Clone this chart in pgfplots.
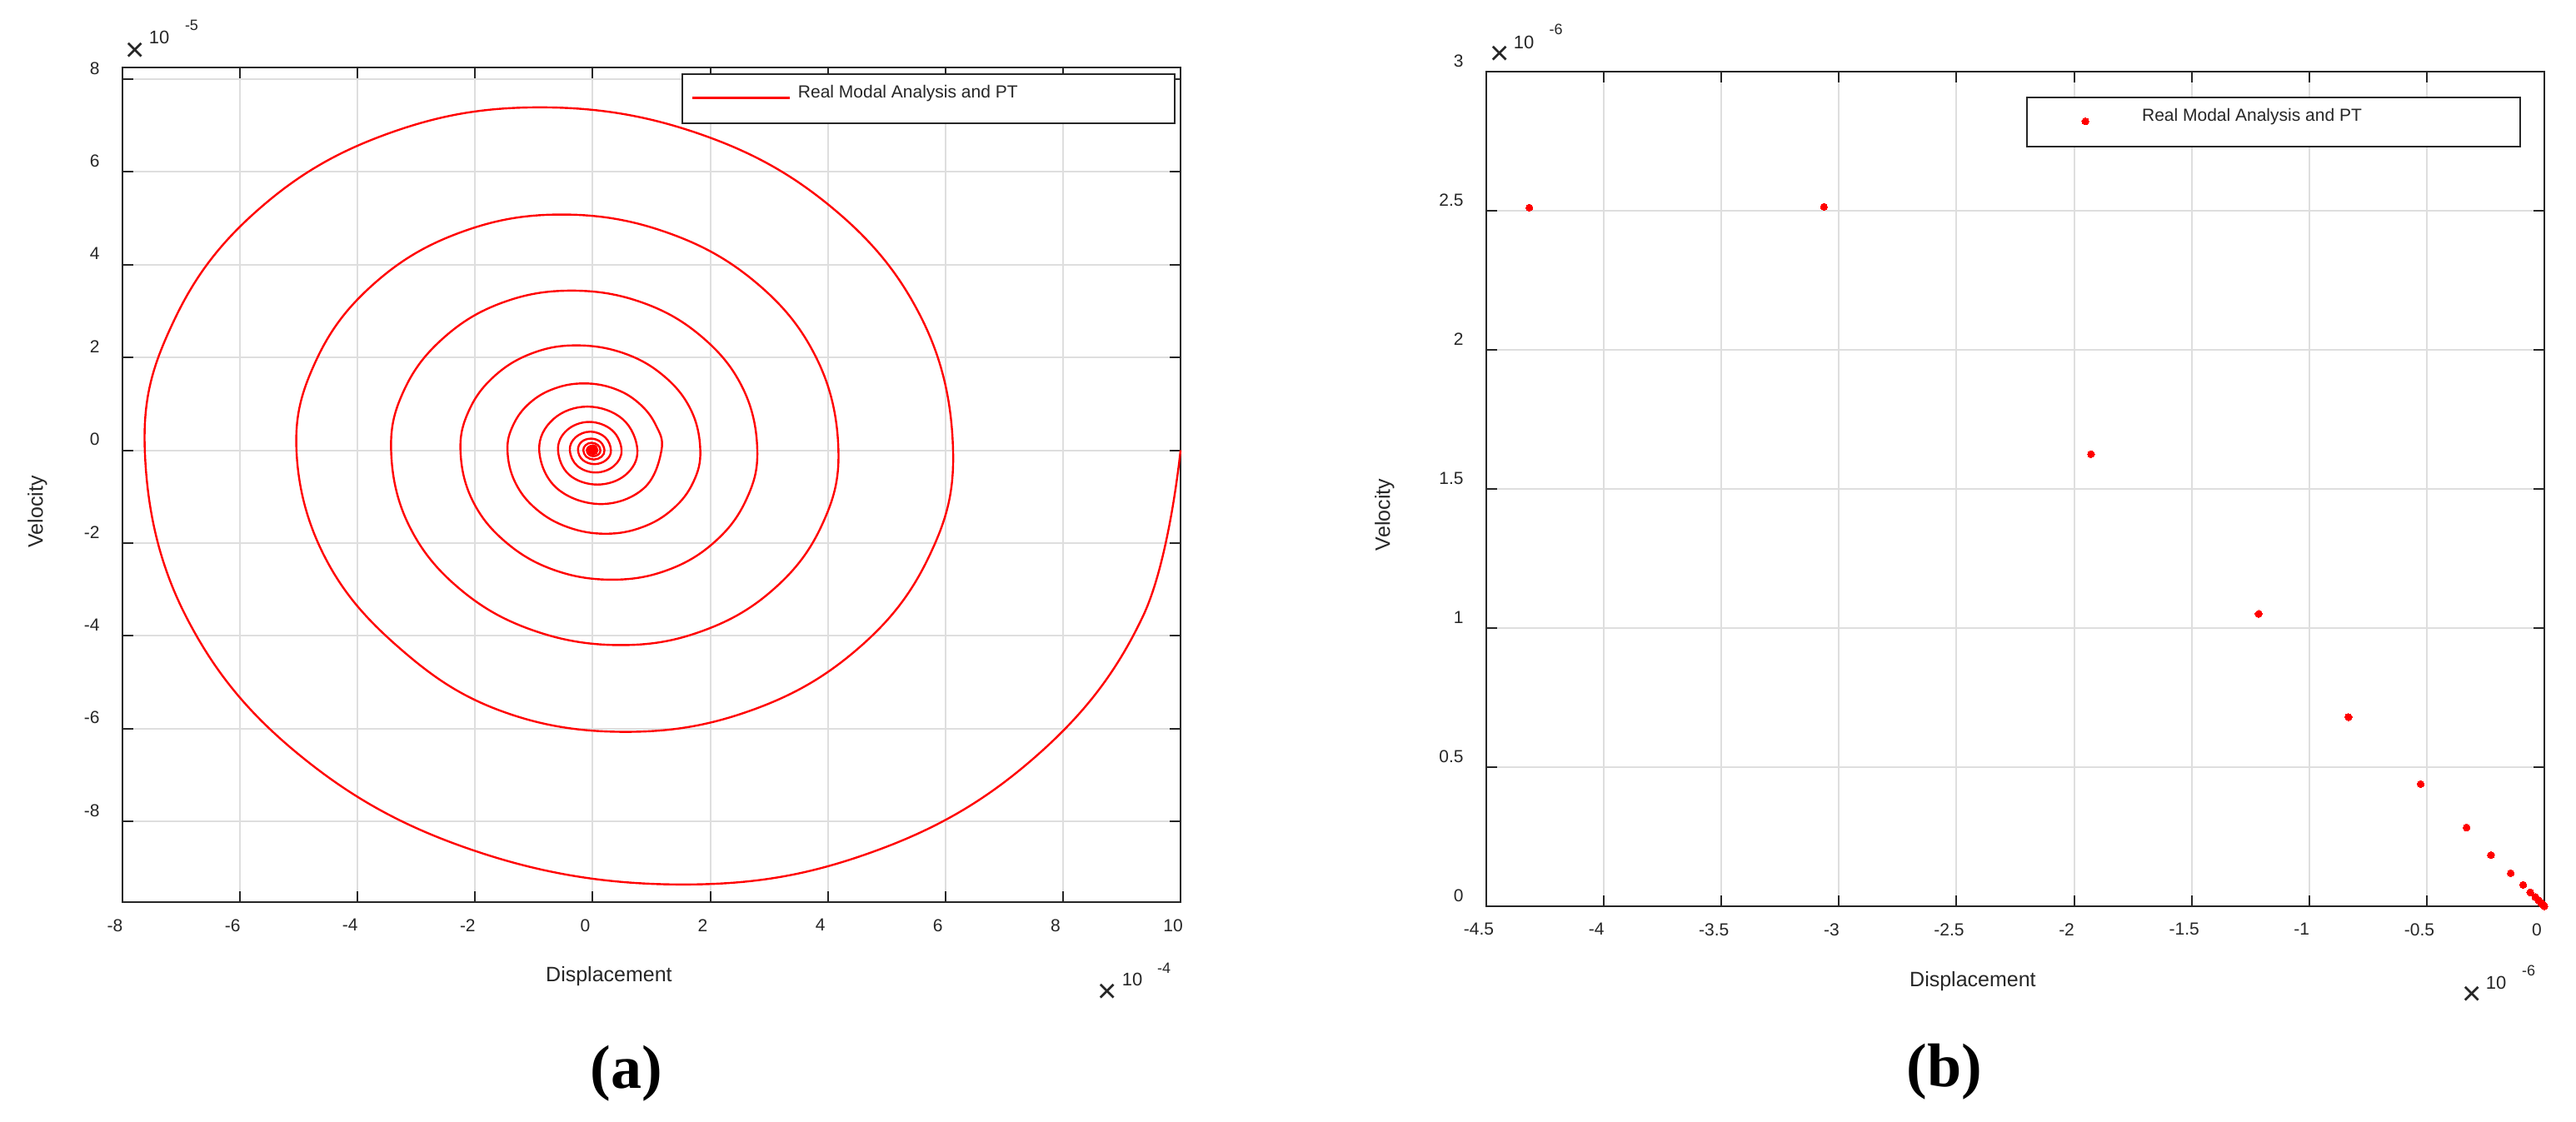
\documentclass[border=0pt]{standalone}
\usepackage{fontspec}
\setmainfont{Liberation Sans}
\newfontfamily\capfont{Liberation Serif}
\usepackage{pgfplots}
\pgfplotsset{compat=1.18}
\definecolor{axgray}{HTML}{262626}
\definecolor{gridgray}{HTML}{DEDEDE}
\definecolor{mred}{HTML}{FF0000}

% 1 px of the reference = 0.5pt
\pgfplotsset{
  matlabstyle/.style={
    scale only axis, width=635pt, height=501pt,
    clip=false,
    axis line style={draw=axgray, line width=1pt},
    tick style={draw=axgray, line width=1pt},
    tick align=inside, major tick length=6.5pt,
    grid=major, major grid style={draw=gridgray, line width=1pt},
    scaled ticks=false,
    /pgf/number format/assume math mode=true,
    ticklabel style={font=\fontsize{10.5}{12}\selectfont, text=axgray, inner sep=0pt},
    xticklabel style={anchor=north, yshift=-10pt, xshift=-4.5pt},
    yticklabel style={anchor=east, xshift=-13.5pt, yshift=6.5pt},
    label style={font=\fontsize{12.5}{14}\selectfont, text=axgray},
    xlabel style={anchor=center},
    ylabel style={anchor=center},
    legend cell align=left,
    legend style={draw=axgray, line width=1pt, inner sep=0pt, anchor=north west,
      font=\fontsize{10.5}{12}\selectfont, text=axgray,
      column sep=0pt, row sep=0pt,
      nodes={inner sep=0pt, anchor=base west},
      cells={anchor=base west}},
  },
  lineimg/.style={legend image code/.code={\path[draw=none,fill=none] (0pt,-15.1pt) rectangle (69.5pt,14.3pt);
    \draw[##1] (6pt,0pt) -- (64.5pt,0pt);}},
  dotimg/.style={legend image code/.code={\path[draw=none,fill=none] (0pt,-15.1pt) rectangle (69.2pt,14.3pt);
    \draw[##1] plot coordinates {(35.2pt,0pt)};}},
}

\begin{document}
\begin{tikzpicture}
\useasboundingbox (0,0) rectangle (1546pt,-673.5pt);

% (a) phase portrait, x in 1e-4, v in 1e-5
\begin{axis}[matlabstyle,
  at={(73.5pt,-541.5pt)}, anchor=south west,
  xmin=-8, xmax=10, ymin=-9.74, ymax=8.25,
  xtick={-8,-6,-4,-2,0,2,4,6,8,10},
  ytick={-8,-6,-4,-2,0,2,4,6,8},
  xlabel={Displacement}, ylabel={Velocity},
  xlabel style={at={(axis description cs:0.4598,-0.0888)}},
  ylabel style={at={(axis description cs:-0.0803,0.4676)}},
  legend style={at={(axis description cs:0.5283,0.993)}},
]
\addplot[mred, line width=1.2pt, smooth, tension=0.66, no markers, lineimg] coordinates {
  (10.00,0) (9.36,-3.58) (7.52,-6.62) (4.78,-8.65) (1.54,-9.36)
  (-1.97,-8.65) (-4.94,-6.62) (-6.92,-3.58) (-7.62,0)
  (-7.11,2.83) (-5.65,5.23) (-3.47,6.83) (-0.90,7.39)
  (1.79,6.83) (4.07,5.23) (5.60,2.83) (6.13,0)
  (5.71,-2.32) (4.50,-4.29) (2.69,-5.61) (0.56,-6.07)
  (-1.58,-5.61) (-3.30,-4.25) (-4.55,-2.32) (-5.04,0)
  (-4.70,1.95) (-3.72,3.59) (-2.26,4.69) (-0.53,5.08)
  (1.27,4.69) (2.80,3.59) (3.82,1.95) (4.18,0)
  (3.90,-1.61) (3.10,-2.97) (1.90,-3.88) (0.48,-4.20)
  (-1.02,-3.88) (-2.28,-2.97) (-3.13,-1.61) (-3.43,0)
  (-3.20,1.32) (-2.53,2.43) (-1.54,3.18) (-0.36,3.44)
  (0.85,3.18) (1.87,2.43) (2.56,1.32) (2.80,0)
  (2.61,-1.07) (2.08,-1.97) (1.28,-2.58) (0.33,-2.79)
  (-0.66,-2.58) (-1.49,-1.97) (-2.05,-1.07) (-2.25,0)
  (-2.10,0.87) (-1.67,1.60) (-1.03,2.09) (-0.28,2.26)
  (0.53,2.09) (1.21,1.60) (1.67,0.87) (1.83,0)
  (1.71,-0.69) (1.36,-1.27) (0.84,-1.66) (0.22,-1.80)
  (-0.42,-1.66) (-0.96,-1.27) (-1.32,-0.69) (-1.45,0)
  (-1.35,0.55) (-1.07,1.02) (-0.65,1.33) (-0.15,1.44)
  (0.36,1.33) (0.78,1.02) (1.07,0.55) (1.17,0)
  (0.87,-0.82) (0.14,-1.16) (-0.61,-0.82) (-0.91,0) (-0.67,0.67) (-0.09,0.94) (0.51,0.67) (0.76,0)
  (0.56,-0.53) (0.08,-0.74) (-0.40,-0.53) (-0.59,0) (-0.44,0.43) (-0.06,0.61) (0.33,0.43) (0.49,0)
  (0.36,-0.34) (0.05,-0.48) (-0.26,-0.34) (-0.39,0) (-0.29,0.28) (-0.04,0.40) (0.21,0.28) (0.31,0)
  (0.23,-0.21) (0.03,-0.30) (-0.17,-0.21) (-0.25,0) (-0.19,0.18) (-0.03,0.25) (0.13,0.18) (0.20,0)
  (0.15,-0.14) (0.02,-0.20) (-0.11,-0.14) (-0.16,0) (-0.12,0.11) (-0.02,0.16) (0.09,0.11) (0.13,0)
  (0.10,-0.09) (0.01,-0.13) (-0.07,-0.09) (-0.10,0) (-0.07,0.07) (0,0.10) (0.06,0.07) (0.08,0)
  (0.06,-0.06) (0,-0.08) (-0.046,-0.06) (-0.065,0) (-0.046,0.046) (0,0.065) (0.035,0.046) (0.05,0)
  (0.035,-0.035) (0,-0.05) (-0.028,-0.035) (-0.04,0) (-0.028,0.028) (0,0.04) (0.021,0.028) (0.03,0)
  (0,-0.03) (-0.024,0) (0,0.024) (0.018,0) (0,-0.015) (-0.012,0) (0,0.01) (0.005,0)
};
\addlegendentry{\makebox[226pt][l]{Real Modal Analysis and PT}}
\end{axis}

% (b) sampled points, both in 1e-6
\begin{axis}[matlabstyle,
  at={(892pt,-544pt)}, anchor=south west,
  xmin=-4.5, xmax=0, ymin=0, ymax=3,
  xtick={-4.5,-4,-3.5,-3,-2.5,-2,-1.5,-1,-0.5,0},
  ytick={0,0.5,1,1.5,2,2.5,3},
  xlabel={Displacement}, ylabel={Velocity},
  xlabel style={at={(axis description cs:0.4598,-0.0898)}},
  ylabel style={at={(axis description cs:-0.0961,0.469)}},
  legend style={at={(axis description cs:0.51,0.970)}},
]
\addplot[mred, only marks, mark=*, mark size=2.1pt,
  mark options={draw=mred, fill=mred, line width=0pt}, dotimg] coordinates {
  (-4.317,2.511) (-3.064,2.514) (-1.928,1.625) (-1.215,1.051) (-0.833,0.680)
  (-0.526,0.439) (-0.331,0.283) (-0.227,0.184) (-0.143,0.119) (-0.090,0.077)
  (-0.060,0.050) (-0.038,0.033) (-0.024,0.021) (-0.015,0.014) (-0.010,0.009)
  (-0.006,0.006) (-0.004,0.004) (-0.002,0.002) (-0.001,0.001) (0,0)
};
\addlegendentry{\makebox[227pt][l]{Real Modal Analysis and PT}}
\end{axis}

% exponent notes
\begin{scope}[every node/.style={text=axgray, inner sep=0pt, anchor=center}]
\node[font=\fontsize{20}{20}\selectfont] at (81pt,-31pt) {×};
\node[font=\fontsize{11}{12}\selectfont] at (95.5pt,-22.5pt) {10};
\node[font=\fontsize{9}{10}\selectfont] at (115pt,-15.25pt) {-5};
\node[font=\fontsize{20}{20}\selectfont] at (664.5pt,-596pt) {×};
\node[font=\fontsize{11}{12}\selectfont] at (679.5pt,-588pt) {10};
\node[font=\fontsize{9}{10}\selectfont] at (698.5pt,-581pt) {-4};
\node[font=\fontsize{20}{20}\selectfont] at (900pt,-33.25pt) {×};
\node[font=\fontsize{11}{12}\selectfont] at (914.5pt,-25.25pt) {10};
\node[font=\fontsize{9}{10}\selectfont] at (933.75pt,-17.75pt) {-6};
\node[font=\fontsize{20}{20}\selectfont] at (1483.5pt,-597.5pt) {×};
\node[font=\fontsize{11}{12}\selectfont] at (1498pt,-590pt) {10};
\node[font=\fontsize{9}{10}\selectfont] at (1517.5pt,-582.5pt) {-6};
\end{scope}
\node[text=black, inner sep=0pt, font=\capfont\bfseries\fontsize{37}{40}\selectfont] at (376pt,-644.5pt) {(a)};
\node[text=black, inner sep=0pt, font=\capfont\bfseries\fontsize{37}{40}\selectfont] at (1166.8pt,-643.5pt) {(b)};
\end{tikzpicture}
\end{document}
